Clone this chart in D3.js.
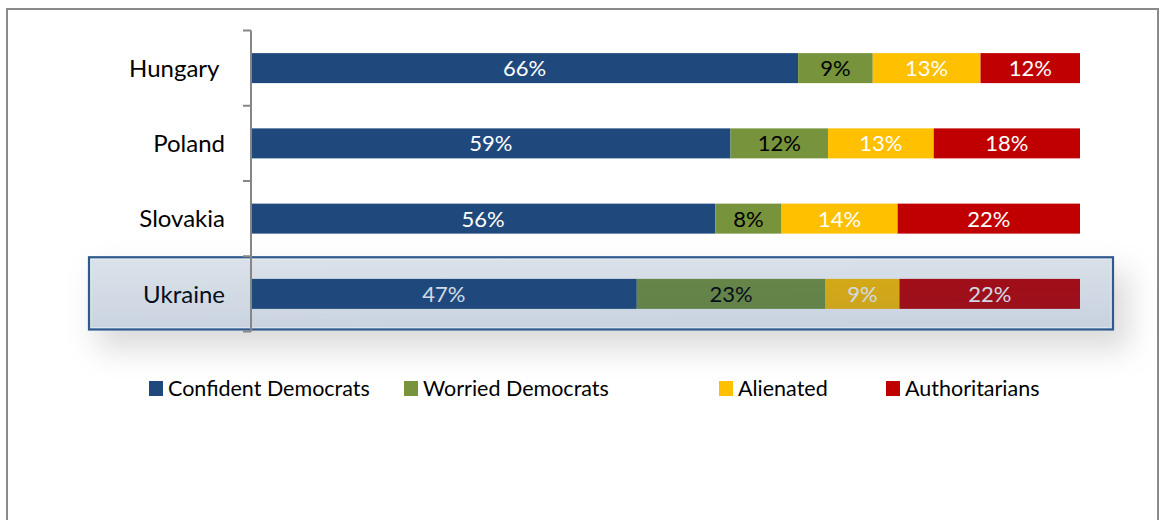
<!DOCTYPE html>
<html>
<head>
<meta charset="utf-8">
<script src="https://cdn.jsdelivr.net/npm/d3@7"></script>
<style>
html,body{margin:0;padding:0;background:#fff;}
svg{display:block;}
text{font-family:Lato,"Open Sans",sans-serif;}
</style>
</head>
<body>
<svg id="chart" width="1161" height="520"></svg>
<script>
// ---- data ----
const countries = ["Hungary ", "Poland", "Slovakia", "Ukraine"];
const seriesNames = ["Confident Democrats", "Worried Democrats", "Alienated", "Authoritarians"];
const confident = [66, 59, 56, 47];
const worried = [9, 12, 8, 23];
const alienated = [13, 13, 14, 9];
const authoritarians = [12, 18, 22, 22];
const seriesColors = ["#1f497d", "#77933c", "#ffc000", "#c00000"];
const labelColors = ["#ffffff", "#000000", "#ffffff", "#ffffff"];
const highlighted = "Ukraine";

const rows = countries.map((c, i) => ({
  country: c,
  "Confident Democrats": confident[i],
  "Worried Democrats": worried[i],
  "Alienated": alienated[i],
  "Authoritarians": authoritarians[i]
}));

const svg = d3.select("#chart");

// frame
svg.append("rect").attr("x", 7).attr("y", 9).attr("width", 1151).attr("height", 540)
  .attr("fill", "none").attr("stroke", "#8a8a8a").attr("stroke-width", 2);

const x = d3.scaleLinear().domain([0, 1]).range([251, 1080]);
const y = d3.scaleBand().domain(countries).range([30.5, 331.5]).padding(0);
const barH = 30;

const stack = d3.stack().keys(seriesNames).offset(d3.stackOffsetExpand);
const stacked = stack(rows);

// highlight box geometry (derived from band)
const hb = y(highlighted);
const box = {x: 89, y: hb + 1, w: 1024, h: y.bandwidth() - 3};

const defs = svg.append("defs");
const blur = defs.append("filter").attr("id", "sh").attr("filterUnits", "userSpaceOnUse")
  .attr("x", 0).attr("y", 150).attr("width", 1161).attr("height", 330);
blur.append("feGaussianBlur").attr("stdDeviation", 15);
const mask = defs.append("mask").attr("id", "boxmask").attr("maskUnits", "userSpaceOnUse")
  .attr("x", 0).attr("y", 0).attr("width", 1161).attr("height", 520);
mask.append("rect").attr("x", 0).attr("y", 0).attr("width", 1161).attr("height", 520).attr("fill", "#fff");
mask.append("rect").attr("x", box.x - 1).attr("y", box.y - 1).attr("width", box.w + 2).attr("height", box.h + 2).attr("fill", "#000");
const grad = defs.append("linearGradient").attr("id", "bg").attr("x1", 0).attr("y1", 0).attr("x2", 0.15).attr("y2", 1);
grad.append("stop").attr("offset", 0).attr("stop-color", "rgb(31,73,125)").attr("stop-opacity", 0.16);
grad.append("stop").attr("offset", 1).attr("stop-color", "rgb(31,73,125)").attr("stop-opacity", 0.24);

// shadow
svg.append("g").attr("mask", "url(#boxmask)")
  .append("rect").attr("x", box.x + 8).attr("y", box.y + 14).attr("width", box.w + 8).attr("height", box.h + 6)
  .attr("fill", "rgba(0,0,0,0.14)").attr("filter", "url(#sh)");

// bars
const g = svg.append("g");
stacked.forEach((s, si) => {
  g.selectAll(null).data(s).enter().append("rect")
    .attr("x", d => x(d[0]))
    .attr("y", d => y(d.data.country) + y.bandwidth() / 2 - barH / 2)
    .attr("width", d => x(d[1]) - x(d[0]))
    .attr("height", barH)
    .attr("fill", seriesColors[si]);
  g.selectAll(null).data(s).enter().append("text")
    .attr("x", d => (x(d[0]) + x(d[1])) / 2)
    .attr("y", d => y(d.data.country) + y.bandwidth() / 2)
    .attr("dy", "0.36em")
    .attr("text-anchor", "middle")
    .attr("font-size", 22)
    .attr("fill", labelColors[si])
    .text(d => d.data[s.key] + "%");
});

// category labels
svg.append("g").selectAll("text").data(countries).enter().append("text")
  .attr("x", 225)
  .attr("y", d => y(d) + y.bandwidth() / 2)
  .attr("dy", "0.36em")
  .attr("text-anchor", "end")
  .attr("font-size", 24)
  .attr("fill", "#000")
  .style("white-space", "pre")
  .text(d => d);

// highlight overlay
svg.append("rect").attr("x", box.x).attr("y", box.y).attr("width", box.w).attr("height", box.h)
  .attr("fill", "url(#bg)").attr("stroke", "#2e5a8e").attr("stroke-width", 2.2);
svg.append("rect").attr("x", box.x + 2).attr("y", box.y + 2).attr("width", box.w - 4).attr("height", box.h - 4)
  .attr("fill", "none").attr("stroke", "rgba(255,255,255,0.35)").attr("stroke-width", 1);

// axis line and ticks between categories
const ax = svg.append("g").attr("stroke", "#868686").attr("stroke-width", 2);
const r = y.range();
ax.append("line").attr("x1", 251).attr("x2", 251).attr("y1", r[0]).attr("y2", r[1]);
const bounds = countries.map(c => y(c)).concat([r[1]]);
ax.selectAll(null).data(bounds).enter().append("line")
  .attr("x1", 243).attr("x2", 251).attr("y1", d => d).attr("y2", d => d);

// legend
const legendX = [149, 404, 719, 886];
const lg = svg.append("g");
seriesNames.forEach((n, i) => {
  lg.append("rect").attr("x", legendX[i]).attr("y", 381).attr("width", 14).attr("height", 15).attr("fill", seriesColors[i]);
  lg.append("text").attr("x", legendX[i] + 19).attr("y", 388.5).attr("dy", "0.36em")
    .attr("font-size", 21.5).attr("fill", "#000").text(n);
});
</script>
</body>
</html>
